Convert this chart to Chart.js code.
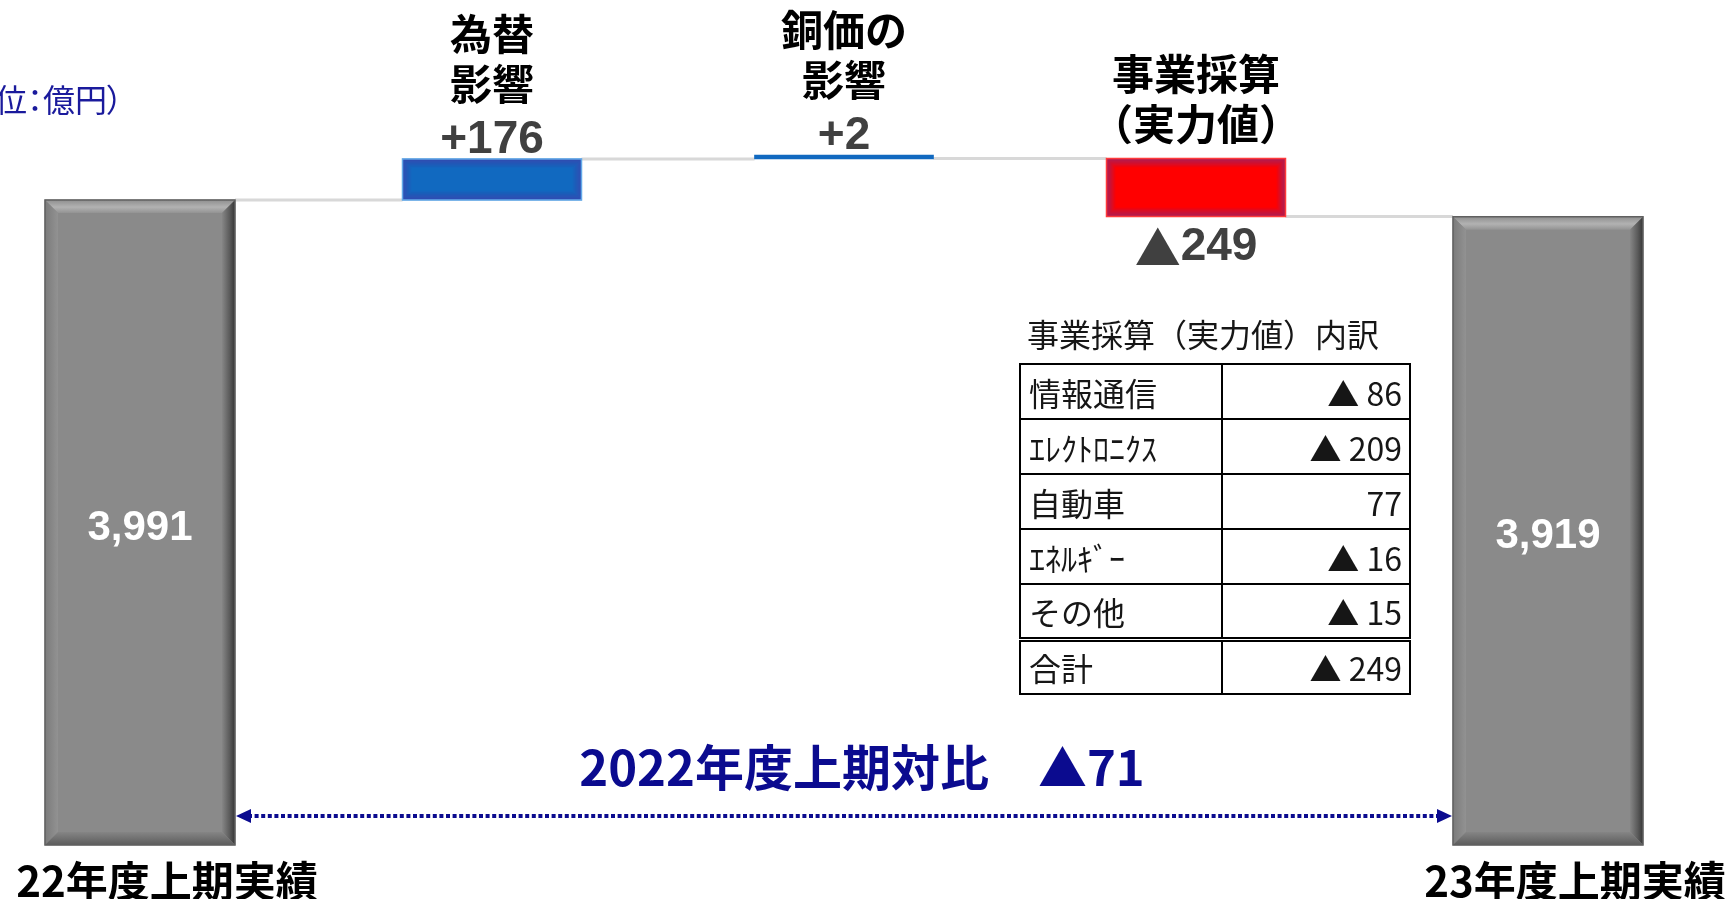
<!DOCTYPE html>
<html lang="ja">
<head>
<meta charset="utf-8">
<title>営業利益 増減要因</title>
<script src="https://cdn.jsdelivr.net/npm/chart.js@4.4.1/dist/chart.umd.min.js"></script>
<style>
  html, body { margin: 0; padding: 0; background: #fff; }
  #wrap { position: relative; width: 1734px; height: 899px; overflow: hidden; }
  #chart { position: absolute; left: 0; top: 0; }
  #unit {
    position: absolute; right: 1611px; top: 79px;
    font: 400 32px 'Noto Sans CJK JP'; line-height: 38px; color: #1a1a9c;
    white-space: nowrap; font-feature-settings: 'palt';
  }
  #breakdown { position: absolute; left: 1019px; top: 314px; font-family: 'Noto Sans CJK JP'; color: #161616; }
  #breakdown .title { font-size: 32px; line-height: 38px; height: 49px; margin-left: 8px; white-space: nowrap; }
  #breakdown table { border-collapse: collapse; }
  #breakdown tr { height: 55px; }
  #breakdown td { border: 2px solid #000; font-size: 32px; line-height: 1; padding: 0; white-space: nowrap; }
  #breakdown td.name { width: 192px; padding-left: 8px; }
  #breakdown td.val { width: 179px; padding-right: 7px; text-align: right; }
  #breakdown tr.sum td { border-top: 5px double #000; }
</style>
</head>
<body>
<div id="wrap">
  <canvas id="chart" width="1734" height="899"></canvas>
  <div id="unit">（単位：億円）</div>
  <div id="breakdown">
    <div class="title">事業採算（実力値）内訳</div>
    <table><tbody id="loadBreakdown"></tbody></table>
  </div>
</div>

<script>
// データ（億円）
const categories = ['22年度上期実績', '為替\n影響', '銅価の\n影響', '事業採算\n（実力値）', '23年度上期実績'];
const totalValues = [3991, null, null, null, 3919];
const deltaValues = [null, 176, 2, -249, null];
const diffVsLastYear = -71;
const diffLabel = '2022年度上期対比';

// 事業採算（実力値）内訳
const segmentNames = ['情報通信', 'ｴﾚｸﾄﾛﾆｸｽ', '自動車', 'ｴﾈﾙｷﾞｰ', 'その他'];
const segmentValues = [-86, -209, 77, -16, -15];
const segmentTotalName = '合計';
const segmentTotal = -249;

// 縦軸の表示範囲（棒の下端を切る）
const yMin = 1223;
const yMax = 4420;

function tri(v) {
    return v < 0 ? '▲ ' + Math.abs(v) : String(v);
}

/* 内訳テーブル */
var rows = '';
for (var i = 0; i < segmentNames.length; i++) {
    rows += '<tr><td class="name">' + segmentNames[i] + '</td><td class="val">' + tri(segmentValues[i]) + '</td></tr>';
}
rows += '<tr class="sum"><td class="name">' + segmentTotalName + '</td><td class="val">' + tri(segmentTotal) + '</td></tr>';
document.getElementById('loadBreakdown').innerHTML = rows;

/* ウォーターフォール用の浮動棒データ */
var totalBars = [];
var deltaBars = [];
var barEnds = [];
var running = 0;
for (var i = 0; i < categories.length; i++) {
    if (totalValues[i] !== null) {
        totalBars.push([yMin, totalValues[i]]);
        deltaBars.push(null);
        running = totalValues[i];
    } else {
        totalBars.push(null);
        deltaBars.push([running, running + deltaValues[i]]);
        running += deltaValues[i];
    }
    barEnds.push(running);
}

function barAt(chart, i) {
    var ds = totalValues[i] !== null ? 0 : 1;
    return chart.getDatasetMeta(ds).data[i];
}

function box(bar) {
    return {
        l: bar.x - bar.width / 2,
        r: bar.x + bar.width / 2,
        t: Math.min(bar.y, bar.base),
        b: Math.max(bar.y, bar.base)
    };
}

function poly(ctx, pts, fill) {
    ctx.beginPath();
    ctx.moveTo(pts[0][0], pts[0][1]);
    for (var k = 1; k < pts.length; k++) ctx.lineTo(pts[k][0], pts[k][1]);
    ctx.closePath();
    ctx.fillStyle = fill;
    ctx.fill();
}

// ▲ は和文フォント、数字は欧文フォントで描く
function drawTriText(ctx, text, x, y, size) {
    var tri = text.charAt(0) === '▲' ? '▲' : '';
    var rest = tri ? text.slice(1) : text;
    var triFont = 'bold ' + size + 'px "Noto Sans CJK JP"';
    var numFont = 'bold ' + size + 'px "Liberation Sans"';
    ctx.font = triFont;
    var w1 = tri ? ctx.measureText(tri).width : 0;
    ctx.font = numFont;
    var w2 = ctx.measureText(rest).width;
    var start = x - (w1 + w2) / 2;
    var align = ctx.textAlign;
    ctx.textAlign = 'left';
    if (tri) {
        ctx.font = triFont;
        ctx.fillText(tri, start, y);
    }
    ctx.font = numFont;
    ctx.fillText(rest, start + w1, y);
    ctx.textAlign = align;
}

// 灰色の棒の面取り
function drawBevel(ctx, bx, bw) {
    var l = bx.l, r = bx.r, t = bx.t, b = bx.b;
    var g = ctx.createLinearGradient(0, t, 0, t + bw);
    g.addColorStop(0, '#8f8f8f'); g.addColorStop(0.55, '#b2b2b2'); g.addColorStop(1, '#939393');
    poly(ctx, [[l, t], [r, t], [r - bw, t + bw], [l + bw, t + bw]], g);
    g = ctx.createLinearGradient(l, 0, l + bw, 0);
    g.addColorStop(0, '#7b7b7b'); g.addColorStop(1, '#929292');
    poly(ctx, [[l, t], [l + bw, t + bw], [l + bw, b - bw], [l, b]], g);
    g = ctx.createLinearGradient(r - bw, 0, r, 0);
    g.addColorStop(0, '#868686'); g.addColorStop(0.6, '#5a5a5a'); g.addColorStop(1, '#363636');
    poly(ctx, [[r, t], [r, b], [r - bw, b - bw], [r - bw, t + bw]], g);
    g = ctx.createLinearGradient(0, b - bw, 0, b);
    g.addColorStop(0, '#858585'); g.addColorStop(1, '#5c5c5c');
    poly(ctx, [[l, b], [r, b], [r - bw, b - bw], [l + bw, b - bw]], g);
    ctx.strokeStyle = '#606060';
    ctx.lineWidth = 1.5;
    ctx.strokeRect(l, t, r - l, b - t);
}

// 増減の棒のふち
function drawGlow(ctx, bx, rgb, edge) {
    var w = bx.r - bx.l, h = bx.b - bx.t;
    if (h > 12) {
        for (var k = 0; k < 9; k++) {
            ctx.strokeStyle = 'rgba(' + rgb + ',' + (0.55 * (1 - k / 9)).toFixed(3) + ')';
            ctx.lineWidth = 1.2;
            ctx.strokeRect(bx.l + k + 0.5, bx.t + k + 0.5, w - 2 * k - 1, h - 2 * k - 1);
        }
        ctx.strokeStyle = edge;
        ctx.lineWidth = 1.5;
        ctx.strokeRect(bx.l, bx.t, w, h);
    }
}

const connectorPlugin = {
    id: 'connectors',
    beforeDatasetsDraw(chart) {
        var ctx = chart.ctx;
        ctx.save();
        ctx.strokeStyle = '#d8d8d8';
        ctx.lineWidth = 3;
        for (var i = 0; i < categories.length - 1; i++) {
            var a = box(barAt(chart, i));
            var b = box(barAt(chart, i + 1));
            var y = chart.scales.y.getPixelForValue(barEnds[i]);
            ctx.beginPath();
            ctx.moveTo(a.r, y);
            ctx.lineTo(b.l, y);
            ctx.stroke();
        }
        ctx.restore();
    }
};

const barStylePlugin = {
    id: 'barStyle',
    afterDatasetsDraw(chart) {
        var ctx = chart.ctx;
        ctx.save();
        for (var i = 0; i < categories.length; i++) {
            var bx = box(barAt(chart, i));
            if (totalValues[i] !== null) {
                drawBevel(ctx, bx, 13);
            } else if (deltaValues[i] >= 0) {
                drawGlow(ctx, bx, '72,58,168', '#63a9e8');
            } else {
                drawGlow(ctx, bx, '112,52,150', '#ff3a3a');
            }
        }
        ctx.restore();
    }
};

const labelPlugin = {
    id: 'labels',
    afterDraw(chart) {
        var ctx = chart.ctx;
        var area = chart.chartArea;
        ctx.save();
        ctx.textAlign = 'center';
        for (var i = 0; i < categories.length; i++) {
            var bar = barAt(chart, i);
            var bx = box(bar);
            if (totalValues[i] !== null) {
                // 棒の中の数値
                ctx.font = 'bold 42px "Liberation Sans"';
                ctx.fillStyle = '#ffffff';
                ctx.textBaseline = 'middle';
                ctx.fillText(totalValues[i].toLocaleString('en-US'), bar.x, (bx.t + bx.b) / 2 + 6);
                // 下のラベル
                ctx.font = 'bold 42px "Noto Sans CJK JP"';
                ctx.fillStyle = '#000000';
                ctx.fillText(categories[i], bar.x + 27, area.bottom + 36);
            } else {
                var v = deltaValues[i];
                var lines = categories[i].split('\n');
                var lastY = v >= 0 ? bx.t - 75 : bx.t - 34;
                ctx.font = 'bold 42px "Noto Sans CJK JP"';
                ctx.fillStyle = '#000000';
                ctx.textBaseline = 'middle';
                for (var k = 0; k < lines.length; k++) {
                    ctx.fillText(lines[k], bar.x, lastY - (lines.length - 1 - k) * 50);
                }
                ctx.fillStyle = '#404040';
                if (v >= 0) {
                    ctx.textBaseline = 'alphabetic';
                    drawTriText(ctx, '+' + v, bar.x, bx.t - 6, 46);
                } else {
                    ctx.textBaseline = 'middle';
                    drawTriText(ctx, '▲' + Math.abs(v), bar.x, bx.b + 31, 46);
                }
            }
        }

        // 前年同期比の矢印
        var first = box(barAt(chart, 0));
        var last = box(barAt(chart, categories.length - 1));
        var ay = area.bottom - 29;
        var x1 = first.r + 1, x2 = last.l - 1;
        ctx.strokeStyle = '#0b0b8f';
        ctx.lineWidth = 4;
        ctx.setLineDash([4, 2.6]);
        ctx.beginPath();
        ctx.moveTo(x1 + 12, ay);
        ctx.lineTo(x2 - 12, ay);
        ctx.stroke();
        ctx.setLineDash([]);
        poly(ctx, [[x1, ay], [x1 + 15, ay - 7], [x1 + 15, ay + 7]], '#0b0b8f');
        poly(ctx, [[x2, ay], [x2 - 15, ay - 7], [x2 - 15, ay + 7]], '#0b0b8f');

        ctx.font = 'bold 49px "Noto Sans CJK JP"';
        ctx.fillStyle = '#0b0b8f';
        ctx.textBaseline = 'middle';
        var diffText = diffLabel + '\u3000' + (diffVsLastYear < 0 ? '▲' + Math.abs(diffVsLastYear) : '+' + diffVsLastYear);
        ctx.fillText(diffText, (x1 + x2) / 2 + 18, ay - 49);
        ctx.restore();
    }
};

var ctx = document.getElementById('chart').getContext('2d');
var chart = new Chart(ctx, {
    type: 'bar',
    data: {
        labels: categories,
        datasets: [{
            label: '実績',
            data: totalBars,
            backgroundColor: '#8a8a8a',
            barThickness: 190,
            grouped: false,
            clip: false
        }, {
            label: '増減',
            data: deltaBars,
            backgroundColor: function (c) { return deltaValues[c.dataIndex] >= 0 ? '#1169c0' : '#ff0000'; },
            barThickness: 179,
            minBarLength: 4,
            grouped: false,
            clip: false
        }]
    },
    options: {
        responsive: false,
        animation: false,
        layout: { padding: { left: 140, right: 186, top: 100, bottom: 54 } },
        scales: {
            x: { type: 'category', offset: false, display: false },
            y: { min: yMin, max: yMax, display: false }
        },
        plugins: {
            legend: { display: false },
            tooltip: { enabled: false }
        }
    },
    plugins: [connectorPlugin, barStylePlugin, labelPlugin]
});
</script>
</body>
</html>
